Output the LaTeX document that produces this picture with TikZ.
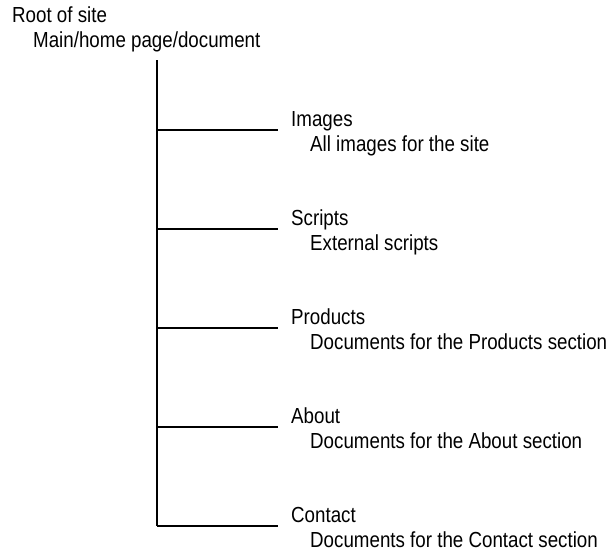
\documentclass[tikz,border=0pt]{standalone}
\usepackage{fontspec}
\setmainfont{Liberation Sans}[FakeStretch=0.86]
\usepackage{tikz}
\usetikzlibrary{positioning}
\newcommand{\treefont}{\fontsize{21.8}{26}\selectfont}
\tikzset{
  dirlbl/.style ={anchor=base west,inner sep=0pt,font=\treefont},
  desclbl/.style={anchor=base west,inner sep=0pt,font=\treefont},
  treeline/.style={line width=1.3pt,black},
}
\begin{document}
\begin{tikzpicture}[x=1pt,y=-1pt]
  \useasboundingbox (0,0) rectangle (615,552);
  \node[dirlbl]  (root) at (12,22) {Root of site};
  \node[desclbl] (main) at (33,47) {Main/home page/document};
  \coordinate (top) at (157,60);
  \foreach \y/\name/\desc in {130/Images/All images for the site,
                              229/Scripts/External scripts,
                              328/Products/Documents for the Products section,
                              427/About/Documents for the About section,
                              526/Contact/Documents for the Contact section}{
     \coordinate (\name-j) at (157,\y);
     \coordinate (\name-e) at (278,\y);
     \draw[treeline] (\name-j) -- (\name-e);
     \node[dirlbl]  (\name)   at (291,\y-4)  {\name};
     \node[desclbl] (\name-d) at (310,\y+21) {\desc};
  }
  \draw[treeline] (top) -- (Contact-j);
\end{tikzpicture}
\end{document}
